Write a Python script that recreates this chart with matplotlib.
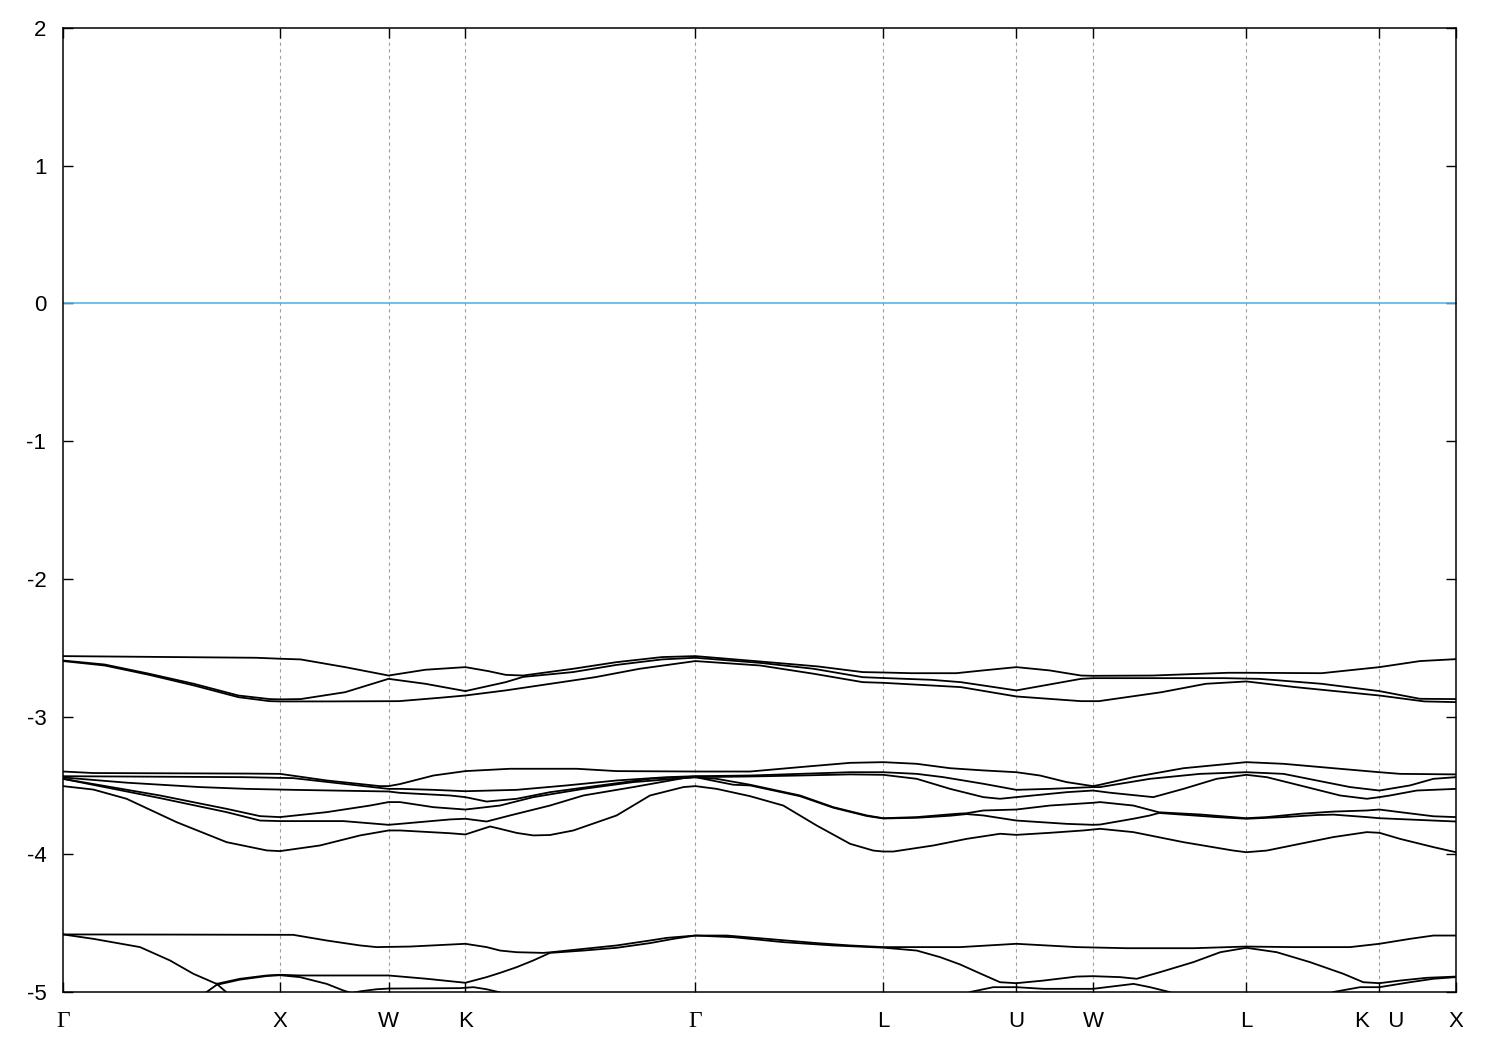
import matplotlib
matplotlib.use("Agg")
import matplotlib.pyplot as plt

# ---------------- data ----------------
tick_pos = [0.0, 1.0, 1.5, 1.854, 2.914, 3.780, 4.393, 4.746, 5.453, 6.066, 6.419]
tick_lab = ["Γ", "X", "W", "K", "Γ", "L", "U", "W", "L", "K   U", "X"]
ytick_vals = [-5, -4, -3, -2, -1, 0, 1, 2]
ytick_lab = ["-5", "-4", "-3", "-2", "-1", "0", "1", "2"]
fermi_level = 0.0

# upper group
T1_k = [0, 0.89, 1.0, 1.095, 1.30, 1.5, 1.67, 1.854, 1.96, 2.04, 2.12, 2.35, 2.55, 2.76, 2.914,
        3.212, 3.479, 3.685, 3.780, 3.911, 4.116, 4.239, 4.393, 4.547, 4.691, 4.746, 5.020,
        5.369, 5.453, 5.800, 6.066, 6.253, 6.419]
T1_E = [-2.561, -2.573, -2.580, -2.585, -2.641, -2.702, -2.660, -2.641, -2.670, -2.697, -2.702,
        -2.653, -2.605, -2.568, -2.561, -2.600, -2.636, -2.677, -2.680, -2.685, -2.685, -2.665,
        -2.641, -2.665, -2.702, -2.704, -2.702, -2.682, -2.682, -2.685, -2.641, -2.597, -2.583]

T2_k = [0, 0.192, 0.397, 0.603, 0.808, 0.952, 1.0, 1.095, 1.30, 1.5, 1.67, 1.854, 2.04, 2.12,
        2.35, 2.55, 2.76, 2.914, 3.212, 3.459, 3.685, 3.780, 4.0, 4.137, 4.393, 4.691, 4.746,
        5.349, 5.513, 5.800, 6.066, 6.253, 6.419]
T2_E = [-2.593, -2.622, -2.689, -2.762, -2.847, -2.873, -2.875, -2.873, -2.823, -2.726, -2.762,
        -2.815, -2.750, -2.712, -2.677, -2.625, -2.585, -2.573, -2.610, -2.653, -2.714, -2.720,
        -2.733, -2.750, -2.810, -2.726, -2.721, -2.721, -2.726, -2.762, -2.815, -2.871, -2.873]

T3_k = [0, 0.192, 0.397, 0.603, 0.808, 0.952, 1.0, 1.219, 1.548, 1.733, 1.854, 2.04, 2.246,
        2.452, 2.657, 2.914, 3.212, 3.459, 3.685, 3.780, 4.0, 4.137, 4.393, 4.691, 4.773, 5.062,
        5.266, 5.453, 5.677, 6.066, 6.273, 6.419]
T3_E = [-2.597, -2.629, -2.697, -2.774, -2.859, -2.888, -2.890, -2.890, -2.888, -2.864, -2.847,
        -2.810, -2.762, -2.714, -2.653, -2.597, -2.629, -2.689, -2.750, -2.755, -2.774, -2.786,
        -2.854, -2.888, -2.888, -2.823, -2.762, -2.745, -2.786, -2.847, -2.890, -2.895]

# middle group
M1_k = [0, 0.14, 0.85, 1.0, 1.215, 1.46, 1.5, 1.553, 1.707, 1.854, 2.060, 2.367, 2.551, 2.914,
        3.166, 3.396, 3.627, 3.780, 3.934, 4.088, 4.241, 4.393, 4.502, 4.625, 4.746, 4.779,
        4.932, 5.163, 5.453, 5.624, 5.854, 6.066, 6.161, 6.419]
M1_E = [-3.399, -3.410, -3.414, -3.416, -3.464, -3.505, -3.505, -3.490, -3.428, -3.396, -3.379,
        -3.379, -3.396, -3.399, -3.399, -3.367, -3.336, -3.331, -3.343, -3.375, -3.391, -3.404,
        -3.428, -3.476, -3.505, -3.495, -3.440, -3.375, -3.331, -3.343, -3.375, -3.404, -3.416,
        -3.420]

M2_k = [0, 0.831, 1.061, 1.292, 1.5, 1.553, 1.707, 1.854, 2.091, 2.321, 2.551, 2.782, 2.914,
        3.166, 3.396, 3.627, 3.780, 3.934, 4.057, 4.241, 4.393, 4.548, 4.746, 4.779, 5.009,
        5.240, 5.453, 5.624, 5.777, 5.931, 6.066, 6.207, 6.315, 6.419]
M2_E = [-3.433, -3.440, -3.447, -3.488, -3.525, -3.525, -3.532, -3.542, -3.532, -3.500, -3.464,
        -3.440, -3.433, -3.428, -3.416, -3.404, -3.404, -3.416, -3.440, -3.488, -3.532, -3.525,
        -3.512, -3.512, -3.452, -3.416, -3.404, -3.416, -3.464, -3.512, -3.537, -3.500, -3.452,
        -3.440]

M3_k = [0, 0.293, 0.631, 0.846, 1.061, 1.5, 1.553, 1.783, 1.854, 1.952, 2.091, 2.244, 2.475,
        2.705, 2.914, 3.012, 3.166, 3.396, 3.627, 3.780, 3.934, 4.088, 4.241, 4.318, 4.393,
        4.625, 4.746, 4.825, 5.024, 5.163, 5.316, 5.453, 5.547, 5.700, 5.885, 6.008, 6.066,
        6.115, 6.238, 6.419]
M3_E = [-3.442, -3.480, -3.512, -3.525, -3.532, -3.544, -3.554, -3.573, -3.585, -3.617, -3.597,
        -3.549, -3.500, -3.452, -3.435, -3.438, -3.435, -3.428, -3.420, -3.423, -3.452, -3.525,
        -3.585, -3.597, -3.585, -3.549, -3.537, -3.553, -3.585, -3.525, -3.452, -3.423, -3.440,
        -3.500, -3.573, -3.597, -3.585, -3.573, -3.537, -3.525]

M4_k = [0, 0.447, 0.754, 0.908, 1.0, 1.215, 1.415, 1.5, 1.553, 1.707, 1.854, 2.014, 2.167,
        2.398, 2.628, 2.914, 3.012, 3.166, 3.396, 3.550, 3.704, 3.780, 3.934, 4.118, 4.164,
        4.241, 4.393, 4.548, 4.746, 4.779, 4.932, 5.05, 5.240, 5.453, 5.547, 5.700, 5.854,
        6.008, 6.066, 6.161, 6.315, 6.419]
M4_E = [-3.452, -3.573, -3.670, -3.723, -3.730, -3.694, -3.646, -3.621, -3.621, -3.658, -3.675,
        -3.646, -3.585, -3.525, -3.476, -3.440, -3.452, -3.495, -3.573, -3.658, -3.718, -3.738,
        -3.730, -3.706, -3.702, -3.682, -3.675, -3.646, -3.626, -3.621, -3.646, -3.695, -3.711,
        -3.738, -3.730, -3.706, -3.690, -3.682, -3.675, -3.694, -3.724, -3.730]

M5_k = [0, 0.447, 0.754, 0.908, 1.0, 1.292, 1.5, 1.553, 1.783, 1.854, 1.952, 2.060, 2.244,
        2.398, 2.628, 2.859, 2.914, 3.089, 3.166, 3.396, 3.550, 3.704, 3.780, 3.934, 4.088,
        4.164, 4.241, 4.393, 4.625, 4.746, 4.779, 4.932, 5.009, 5.05, 5.316, 5.453, 5.624,
        5.777, 5.854, 6.008, 6.066, 6.315, 6.419]
M5_E = [-3.452, -3.592, -3.694, -3.755, -3.759, -3.759, -3.786, -3.779, -3.747, -3.742, -3.762,
        -3.718, -3.646, -3.573, -3.512, -3.447, -3.440, -3.495, -3.500, -3.578, -3.662, -3.722,
        -3.740, -3.735, -3.720, -3.708, -3.718, -3.755, -3.779, -3.786, -3.784, -3.742, -3.718,
        -3.700, -3.730, -3.742, -3.730, -3.715, -3.712, -3.730, -3.738, -3.755, -3.762]

M6_k = [0, 0.14, 0.293, 0.524, 0.754, 0.939, 1.0, 1.184, 1.369, 1.5, 1.553, 1.783, 1.854,
        1.968, 2.014, 2.091, 2.167, 2.244, 2.352, 2.551, 2.705, 2.859, 2.914, 3.012, 3.166,
        3.319, 3.473, 3.627, 3.734, 3.780, 3.826, 4.011, 4.164, 4.318, 4.393, 4.548, 4.702,
        4.779, 4.932, 5.163, 5.393, 5.453, 5.547, 5.700, 5.854, 6.008, 6.066, 6.161, 6.315,
        6.419]
M6_E = [-3.505, -3.530, -3.597, -3.767, -3.912, -3.972, -3.977, -3.936, -3.863, -3.827, -3.827,
        -3.847, -3.856, -3.798, -3.815, -3.845, -3.863, -3.860, -3.827, -3.718, -3.573, -3.512,
        -3.505, -3.525, -3.578, -3.646, -3.791, -3.924, -3.973, -3.980, -3.980, -3.936, -3.888,
        -3.851, -3.859, -3.844, -3.827, -3.815, -3.839, -3.912, -3.973, -3.985, -3.973, -3.924,
        -3.875, -3.839, -3.844, -3.888, -3.948, -3.985]

# lower group
B1_k = [0, 0.5, 1.061, 1.215, 1.369, 1.445, 1.599, 1.854, 1.952, 2.014, 2.090, 2.213, 2.244,
        2.398, 2.551, 2.705, 2.782, 2.914, 3.058, 3.243, 3.473, 3.627, 3.780, 4.134, 4.393,
        4.671, 4.902, 5.209, 5.453, 5.668, 5.931, 6.066, 6.207, 6.315, 6.419]
B1_E = [-4.582, -4.583, -4.585, -4.626, -4.662, -4.674, -4.670, -4.650, -4.674, -4.699, -4.711,
        -4.716, -4.712, -4.687, -4.662, -4.626, -4.607, -4.590, -4.590, -4.614, -4.645, -4.662,
        -4.674, -4.674, -4.650, -4.674, -4.682, -4.682, -4.670, -4.674, -4.674, -4.650, -4.614,
        -4.590, -4.590]

B2_k = [0, 0.140, 0.355, 0.493, 0.601, 0.708, 0.816, 0.939, 1.0, 1.092, 1.5, 1.676, 1.854,
        1.952, 2.014, 2.090, 2.167, 2.244, 2.398, 2.551, 2.705, 2.813, 2.914, 3.089, 3.320,
        3.550, 3.780, 3.934, 4.042, 4.134, 4.226, 4.318, 4.393, 4.518, 4.671, 4.746, 4.871,
        4.948, 5.055, 5.209, 5.333, 5.453, 5.593, 5.746, 5.900, 5.992, 6.066, 6.161, 6.284,
        6.419]
B2_E = [-4.582, -4.614, -4.674, -4.771, -4.868, -4.941, -4.904, -4.880, -4.875, -4.880, -4.880,
        -4.904, -4.933, -4.892, -4.861, -4.820, -4.771, -4.716, -4.699, -4.679, -4.645, -4.614,
        -4.590, -4.602, -4.638, -4.662, -4.678, -4.699, -4.747, -4.800, -4.865, -4.929, -4.936,
        -4.917, -4.888, -4.885, -4.892, -4.904, -4.856, -4.783, -4.711, -4.679, -4.711, -4.783,
        -4.868, -4.929, -4.936, -4.917, -4.897, -4.888]

B3_k = [0.58, 0.662, 0.708, 0.816, 0.939, 1.0, 1.092, 1.215, 1.292, 1.33, 1.37, 1.445, 1.5,
        1.829, 1.891, 1.952, 2.014, 2.07, 2.5, 3.0, 3.5, 4.0, 4.14, 4.18, 4.287, 4.393, 4.518,
        4.746, 4.871, 4.933, 5.009, 5.101, 5.16, 5.45, 5.80, 5.854, 5.977, 6.066, 6.207, 6.315,
        6.419]
B3_E = [-5.09, -5.0, -4.948, -4.910, -4.884, -4.878, -4.892, -4.941, -4.989, -5.008, -4.995,
        -4.980, -4.975, -4.972, -4.965, -4.980, -5.003, -5.06, -5.3, -5.4, -5.3, -5.15, -5.06,
        -5.0, -4.965, -4.965, -4.977, -4.977, -4.953, -4.941, -4.965, -5.001, -5.06, -5.2,
        -5.06, -5.0, -4.965, -4.965, -4.929, -4.904, -4.892]

B4_k = [0.708, 0.754, 0.80]
B4_E = [-4.941, -5.003, -5.07]

bands = [(T1_k, T1_E), (T2_k, T2_E), (T3_k, T3_E),
         (M1_k, M1_E), (M2_k, M2_E), (M3_k, M3_E), (M4_k, M4_E), (M5_k, M5_E), (M6_k, M6_E),
         (B1_k, B1_E), (B2_k, B2_E), (B3_k, B3_E), (B4_k, B4_E)]

# ---------------- plot ----------------
W, H = 1500, 1050
fig = plt.figure(figsize=(W / 100, H / 100), dpi=100)
ax = fig.add_axes([63 / W, 1 - 992 / H, 1393 / W, 964 / H])

for p in tick_pos[1:-1]:
    ax.axvline(p, color="#a0a0a0", lw=0.8, ls=(0, (3, 3)), zorder=1)

ax.axhline(fermi_level, color="#56b4e9", lw=1.2, zorder=2)

for kk, ee in bands:
    ax.plot(kk, ee, color="black", lw=1.3, zorder=3, solid_joinstyle="round")

ax.set_xlim(tick_pos[0], tick_pos[-1])
ax.set_ylim(-5, 2)

ax.set_yticks(ytick_vals)
ax.set_yticklabels(ytick_lab, fontsize=16, family="Liberation Sans")
ax.set_xticks(tick_pos)
ax.set_xticklabels(tick_lab, fontsize=16, family="Liberation Sans")
for t in ax.get_xticklabels():
    if t.get_text() == "Γ":
        t.set_family("Liberation Serif")
        t.set_fontsize(17)

ax.tick_params(axis="both", direction="in", length=7.5, width=1.0,
               top=True, right=True, colors="black")
ax.tick_params(axis="y", pad=12)
ax.tick_params(axis="x", pad=14)
for s in ax.spines.values():
    s.set_linewidth(1.1)
    s.set_color("black")

fig.savefig("out.png", dpi=100)
